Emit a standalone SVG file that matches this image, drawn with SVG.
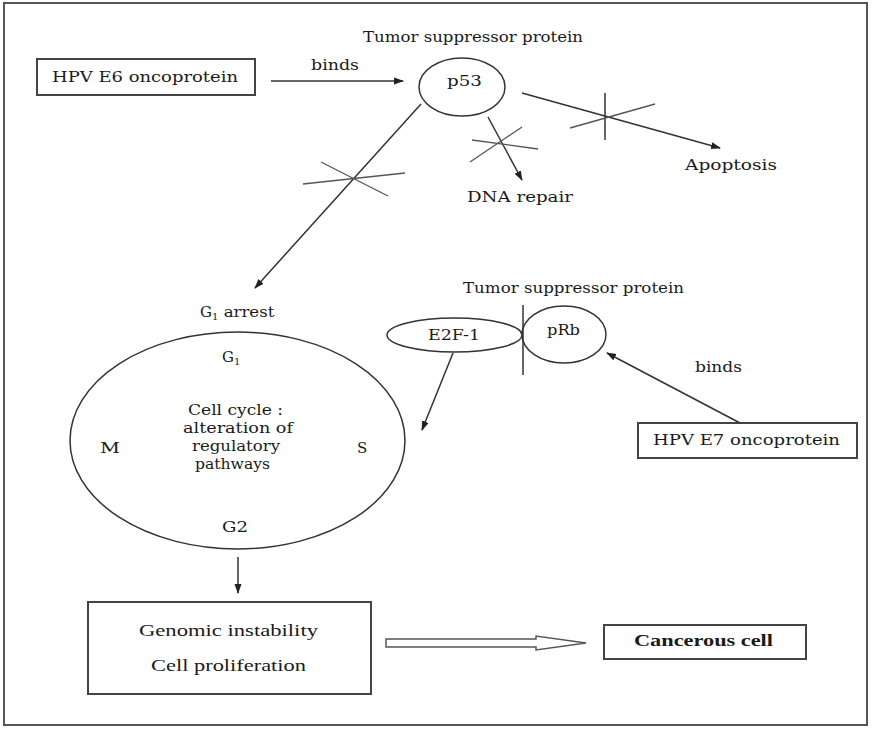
<svg xmlns="http://www.w3.org/2000/svg" width="872" height="729" viewBox="0 0 872 729">
<style>
text{font-family:"DejaVu Serif","Liberation Serif",serif;font-size:14px;fill:#1a1a1a}
.c{font-size:15px}
.t{font-family:"Liberation Serif",serif;font-size:17px}
.b{font-family:"Liberation Serif",serif;font-size:16px;font-weight:bold}
.s{fill:none;stroke:#333;stroke-width:1.5}
.x{fill:none;stroke:#555;stroke-width:1.3}
.box{fill:#fff;stroke:#444;stroke-width:2}
</style>
<defs>
<marker id="ah" markerWidth="10" markerHeight="8" refX="9" refY="4" orient="auto" markerUnits="userSpaceOnUse">
<path d="M0,0.5 L10,4 L0,7.5 Z" fill="#222"/>
</marker>
</defs>
<rect x="4" y="3" width="863" height="722" fill="#fff" stroke="#555" stroke-width="2"/>

<g id="e6">
<rect class="box" x="37" y="59" width="218" height="36"/>
<text x="52" y="82" textLength="186" lengthAdjust="spacingAndGlyphs">HPV E6 oncoprotein</text>
</g>
<g id="p53">
<text x="363" y="42" textLength="220" lengthAdjust="spacingAndGlyphs">Tumor suppressor protein</text>
<ellipse class="s" cx="462" cy="87" rx="43" ry="29"/>
<text x="447" y="86" textLength="35" lengthAdjust="spacingAndGlyphs">p53</text>
</g>
<g id="dna">
<text x="467" y="202" textLength="106" lengthAdjust="spacingAndGlyphs">DNA repair</text>
</g>
<g id="apoptosis">
<text x="685" y="170" textLength="92" lengthAdjust="spacingAndGlyphs">Apoptosis</text>
</g>
<g id="cellcycle">
<text class="c" x="200" y="317">G<tspan font-size="10" dy="3">1</tspan><tspan dy="-3" textLength="56" lengthAdjust="spacingAndGlyphs"> arrest</tspan></text>
<ellipse class="s" cx="237.5" cy="440.5" rx="167.5" ry="108.5"/>
<text class="c" x="222" y="362">G<tspan font-size="10" dy="3">1</tspan></text>
<text class="c" x="188" y="415" textLength="95" lengthAdjust="spacingAndGlyphs">Cell cycle :</text>
<text class="c" x="183" y="433" textLength="110" lengthAdjust="spacingAndGlyphs">alteration of</text>
<text class="c" x="192" y="451" textLength="88" lengthAdjust="spacingAndGlyphs">regulatory</text>
<text class="c" x="195" y="469" textLength="75" lengthAdjust="spacingAndGlyphs">pathways</text>
<text class="c" x="100" y="453" textLength="20" lengthAdjust="spacingAndGlyphs">M</text>
<text class="c" x="357" y="453">S</text>
<text class="c" x="222" y="532" textLength="26" lengthAdjust="spacingAndGlyphs">G2</text>
</g>
<g id="prb">
<text x="463" y="293" textLength="221" lengthAdjust="spacingAndGlyphs">Tumor suppressor protein</text>
<ellipse class="s" cx="454.5" cy="335" rx="67.5" ry="17"/>
<text x="428" y="340" textLength="52" lengthAdjust="spacingAndGlyphs">E2F-1</text>
<ellipse class="s" cx="564" cy="334.5" rx="42" ry="28.5"/>
<text x="547" y="335" textLength="33" lengthAdjust="spacingAndGlyphs">pRb</text>
<line class="s" x1="523" y1="305" x2="523" y2="375"/>
</g>
<g id="e7">
<rect class="box" x="638" y="423" width="219" height="35"/>
<text x="653" y="445" textLength="187" lengthAdjust="spacingAndGlyphs">HPV E7 oncoprotein</text>
</g>
<g id="genomic">
<rect class="box" x="88" y="602" width="283" height="92"/>
<text class="t" x="139" y="636" textLength="179" lengthAdjust="spacingAndGlyphs">Genomic instability</text>
<text class="t" x="151" y="671" textLength="155" lengthAdjust="spacingAndGlyphs">Cell proliferation</text>
</g>
<g id="cancer">
<rect class="box" x="604" y="625" width="202" height="34"/>
<text class="b" x="634" y="646" textLength="139" lengthAdjust="spacingAndGlyphs">Cancerous cell</text>
</g>

<g id="connectors">
<line class="s" x1="271" y1="81" x2="403" y2="81" marker-end="url(#ah)"/>
<text x="311" y="70" textLength="48" lengthAdjust="spacingAndGlyphs">binds</text>
<line class="s" x1="421" y1="104" x2="255" y2="288" marker-end="url(#ah)"/>
<line class="x" x1="303" y1="184" x2="405" y2="173"/>
<line class="x" x1="321" y1="162" x2="388" y2="196"/>
<line class="s" x1="488" y1="117" x2="522" y2="180" marker-end="url(#ah)"/>
<line class="x" x1="470" y1="162" x2="522" y2="127"/>
<line class="x" x1="472" y1="140" x2="538" y2="149"/>
<line class="s" x1="522" y1="93" x2="720" y2="148" marker-end="url(#ah)"/>
<line class="s" x1="605" y1="93" x2="605" y2="140"/>
<line class="x" x1="570" y1="128" x2="655" y2="104"/>
<line class="s" x1="453" y1="353" x2="422" y2="430" marker-end="url(#ah)"/>
<line class="s" x1="740" y1="423" x2="607" y2="353" marker-end="url(#ah)"/>
<text x="695" y="372" textLength="47" lengthAdjust="spacingAndGlyphs">binds</text>
<line class="s" x1="238" y1="557" x2="238" y2="593" marker-end="url(#ah)"/>
<path d="M386,639 L536,639 L536,636 L586,643 L536,650 L536,647 L386,647 Z" fill="#fff" stroke="#555" stroke-width="1.5"/>
</g>
</svg>
